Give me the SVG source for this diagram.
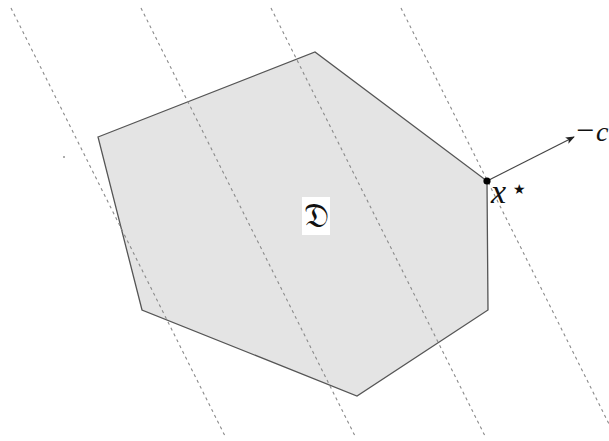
<svg xmlns="http://www.w3.org/2000/svg" width="609" height="441" viewBox="0 0 609 441">
  <defs>
    <style>
      .dash { stroke: #8a8a8a; stroke-width: 1.1; stroke-dasharray: 3 3.5; fill: none; }
      .region { fill: #e4e4e4; stroke: #555555; stroke-width: 1.3; stroke-linejoin: miter; }
      .lbl { font-family: "Liberation Serif", "DejaVu Serif", serif; font-style: italic; fill: #111; }
    </style>
    <marker id="arr" viewBox="0 0 10 10" refX="9" refY="5" markerWidth="9" markerHeight="9" markerUnits="userSpaceOnUse" orient="auto">
      <path d="M0,1 L10,5 L0,9 L2.5,5 Z" fill="#222"/>
    </marker>
  </defs>
  <rect width="609" height="441" fill="#ffffff"/>
  <g id="region-D">
    <polygon class="region" points="98,137 315,52 487,181 488,310 357,396 142,310"/>
  </g>
  <g id="connectors">
    <line class="dash" x1="11" y1="8" x2="226" y2="438"/>
    <line class="dash" x1="141" y1="8" x2="356" y2="438"/>
    <line class="dash" x1="271" y1="8" x2="486" y2="438"/>
    <line class="dash" x1="401" y1="8" x2="616" y2="438"/>
    <line x1="487" y1="181" x2="574" y2="137" stroke="#444" stroke-width="1.2" marker-end="url(#arr)"/>
  </g>
  <g id="label-D">
    <rect x="302" y="197" width="28" height="38" fill="#ffffff"/>
    <text x="316" y="227" font-family="DejaVu Serif, DejaVu Sans, serif" font-size="34" text-anchor="middle" fill="#111">𝔇</text>
  </g>
  <g id="x-star">
    <circle cx="487" cy="181" r="3.6" fill="#000"/>
    <text class="lbl" x="491" y="203" font-size="34">x</text>
    <text x="513" y="194" font-family="DejaVu Sans, sans-serif" font-size="14" fill="#111">★</text>
  </g>
  <g id="label-c">
    <text x="576" y="141" font-family="Liberation Serif, serif" font-size="32" fill="#111">−</text>
    <text class="lbl" x="596" y="141" font-size="28">c</text>
  </g>
  <circle cx="64" cy="157" r="0.8" fill="#444"/>
</svg>
